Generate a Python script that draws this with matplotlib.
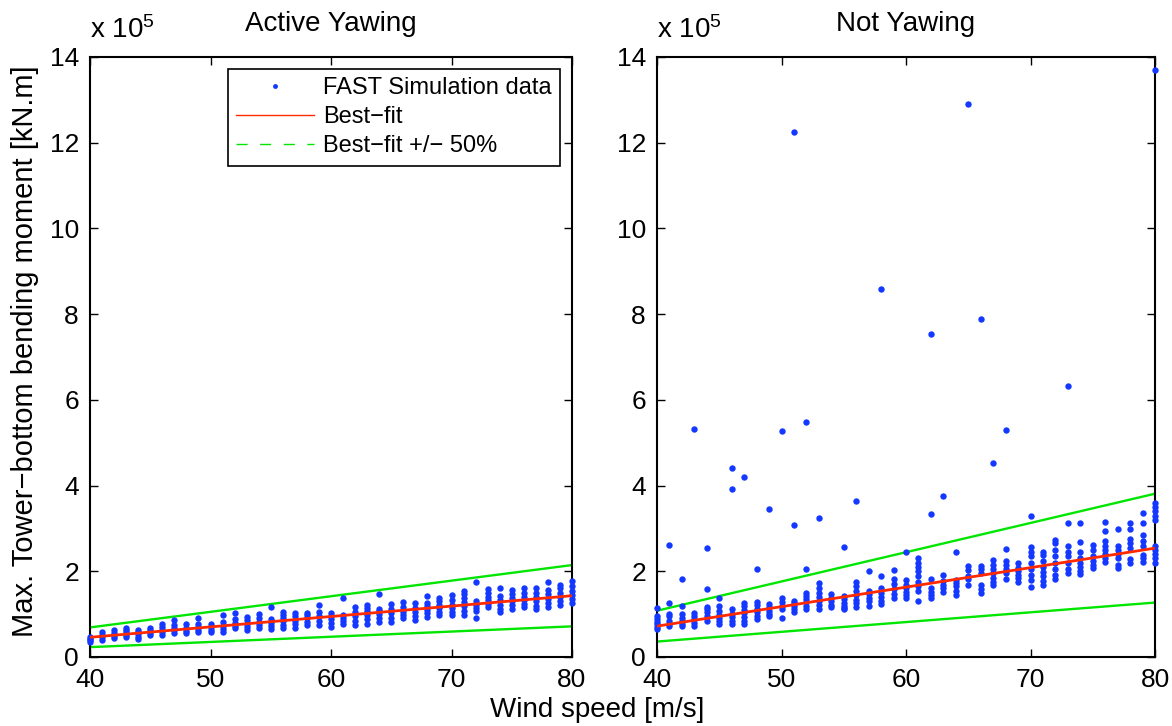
import numpy as np
import matplotlib.pyplot as plt
from matplotlib.lines import Line2D

plt.rcParams['font.family'] = ['Liberation Sans', 'DejaVu Sans']
plt.rcParams['mathtext.fontset'] = 'custom'
plt.rcParams['mathtext.rm'] = 'Liberation Sans'
plt.rcParams['mathtext.it'] = 'Liberation Sans'

# wind speeds [m/s]
speeds = list(range(40, 81))

# max tower-bottom bending moment per wind speed, units of 1e5 kN.m
active_pts = [
    [0.36, 0.40, 0.43, 0.47],
    [0.40, 0.46, 0.52, 0.59],
    [0.44, 0.50, 0.56, 0.63],
    [0.46, 0.52, 0.58, 0.63, 0.67],
    [0.41, 0.47, 0.53, 0.58, 0.63],
    [0.51, 0.56, 0.62, 0.67],
    [0.51, 0.58, 0.64, 0.71, 0.78],
    [0.57, 0.62, 0.68, 0.74, 0.86],
    [0.55, 0.61, 0.67, 0.77],
    [0.59, 0.64, 0.70, 0.78, 0.92],
    [0.59, 0.64, 0.70, 0.76],
    [0.59, 0.66, 0.73, 0.82, 0.98],
    [0.67, 0.73, 0.80, 0.88, 1.03],
    [0.63, 0.70, 0.78, 0.86, 0.93],
    [0.67, 0.74, 0.82, 0.90, 1.00],
    [0.65, 0.72, 0.80, 0.88, 1.16],
    [0.67, 0.75, 0.83, 0.92, 0.98, 1.05],
    [0.67, 0.76, 0.84, 0.95, 1.03],
    [0.75, 0.82, 0.90, 0.97, 1.03],
    [0.75, 0.85, 0.95, 1.05, 1.21],
    [0.71, 0.80, 0.88, 0.95, 1.03],
    [0.78, 0.85, 0.92, 0.98, 1.37],
    [0.75, 0.85, 0.95, 1.05, 1.17],
    [0.78, 0.88, 0.98, 1.08, 1.15, 1.21],
    [0.82, 0.92, 1.00, 1.08, 1.13, 1.46],
    [0.82, 0.92, 1.02, 1.12, 1.23],
    [0.90, 0.98, 1.06, 1.16, 1.29],
    [0.86, 0.95, 1.05, 1.15, 1.25],
    [0.94, 1.02, 1.10, 1.18, 1.27, 1.42],
    [0.98, 1.06, 1.14, 1.22, 1.30, 1.37],
    [0.98, 1.06, 1.14, 1.22, 1.32, 1.45],
    [0.98, 1.08, 1.18, 1.28, 1.38, 1.47, 1.55],
    [0.90, 1.08, 1.15, 1.22, 1.30, 1.76],
    [1.17, 1.24, 1.32, 1.40, 1.50, 1.58],
    [1.05, 1.13, 1.22, 1.32, 1.42, 1.60],
    [1.13, 1.22, 1.30, 1.38, 1.46, 1.56],
    [1.17, 1.24, 1.32, 1.40, 1.50, 1.60],
    [1.11, 1.20, 1.30, 1.40, 1.50, 1.60],
    [1.17, 1.26, 1.36, 1.46, 1.56, 1.76],
    [1.21, 1.30, 1.40, 1.50, 1.60, 1.68],
    [1.27, 1.36, 1.45, 1.55, 1.65, 1.78],
]

not_yawing_pts = [
    [0.65, 0.70, 0.76, 0.82, 0.88, 0.95, 1.15],
    [0.72, 0.76, 0.85, 0.95, 1.00, 1.27, 2.62],
    [0.72, 0.78, 0.85, 0.92, 1.00, 1.19, 1.83],
    [0.73, 0.80, 0.88, 0.95, 1.03, 5.33],
    [0.85, 0.95, 1.05, 1.12, 1.17, 1.59, 2.55],
    [0.78, 0.85, 0.92, 0.98, 1.08, 1.18, 1.37],
    [0.78, 0.85, 0.93, 1.00, 1.13, 3.91, 4.41],
    [0.78, 0.85, 0.93, 1.02, 1.10, 1.18, 1.25, 4.19],
    [0.88, 0.95, 1.05, 1.13, 1.22, 1.29, 2.05],
    [0.95, 1.00, 1.08, 1.17, 1.24, 3.45],
    [0.90, 1.12, 1.20, 1.28, 1.37, 5.27],
    [1.06, 1.12, 1.18, 1.25, 1.31, 3.08, 12.25],
    [1.13, 1.20, 1.28, 1.36, 1.43, 1.50, 2.05, 5.48],
    [1.13, 1.22, 1.30, 1.40, 1.50, 1.60, 1.72, 3.24],
    [1.17, 1.22, 1.30, 1.38, 1.47],
    [1.11, 1.15, 1.20, 1.27, 1.35, 1.42, 2.57],
    [1.17, 1.25, 1.33, 1.45, 1.55, 1.66, 1.76, 3.64],
    [1.19, 1.30, 1.38, 1.48, 1.55, 2.01],
    [1.24, 1.30, 1.40, 1.50, 1.60, 1.89, 8.58],
    [1.38, 1.48, 1.58, 1.70, 1.82, 2.03],
    [1.37, 1.45, 1.52, 1.60, 1.68, 1.80, 2.45],
    [1.31, 1.55, 1.65, 1.75, 1.88, 2.00, 2.10, 2.20, 2.30],
    [1.38, 1.45, 1.52, 1.60, 1.83, 3.33, 7.53],
    [1.52, 1.60, 1.68, 1.78, 1.91, 3.75],
    [1.44, 1.55, 1.65, 1.72, 1.80, 2.45],
    [1.68, 1.82, 1.90, 2.03, 2.12, 12.90],
    [1.50, 1.58, 1.68, 1.95, 2.05, 2.12, 7.88],
    [1.68, 1.75, 1.85, 1.95, 2.05, 2.15, 2.26, 4.52],
    [1.83, 1.95, 2.05, 2.15, 2.25, 2.53, 5.29],
    [1.76, 1.85, 1.92, 2.00, 2.08, 2.20],
    [1.64, 1.80, 1.92, 2.05, 2.20, 2.35, 2.45, 2.57, 3.29],
    [1.68, 1.78, 1.88, 1.98, 2.10, 2.25, 2.38, 2.46],
    [1.83, 1.92, 2.05, 2.20, 2.35, 2.50, 2.65, 2.73],
    [1.95, 2.05, 2.20, 2.35, 2.45, 2.59, 3.13, 6.33],
    [1.93, 2.00, 2.10, 2.20, 2.30, 2.45, 2.69, 3.12],
    [2.07, 2.15, 2.25, 2.35, 2.50, 2.61],
    [2.22, 2.30, 2.40, 2.50, 2.60, 2.71, 2.95, 3.15],
    [2.07, 2.15, 2.30, 2.40, 2.50, 2.60, 2.98],
    [2.20, 2.28, 2.55, 2.65, 2.75, 2.98, 3.13],
    [2.22, 2.30, 2.38, 2.60, 2.70, 2.85, 3.12, 3.36],
    [2.19, 2.30, 2.40, 2.50, 2.60, 3.20, 3.30, 3.40, 3.50, 3.60, 13.70],
]

# linear best-fit end points
fit_x = [40, 80]
active_fit = [0.46, 1.43]
not_yawing_fit = [0.72, 2.54]

titles = ['Active Yawing', 'Not Yawing']

blue = '#1438ff'
red = '#ff2a00'
green = '#00e600'
fs = 20

fig = plt.figure(figsize=(11.72, 7.26), dpi=100)
ax1 = fig.add_axes([90 / 1172, 69 / 726, 482 / 1172, 600 / 726])
ax2 = fig.add_axes([657 / 1172, 69 / 726, 498 / 1172, 600 / 726])

for ax, pts, fit, title in zip([ax1, ax2], [active_pts, not_yawing_pts],
                               [active_fit, not_yawing_fit], titles):
    xs, ys = [], []
    for s, col in zip(speeds, pts):
        xs += [s] * len(col)
        ys += col
    ax.plot(xs, ys, 'o', color=blue, ms=4.6, mew=0, clip_on=False, zorder=3)
    f = np.array(fit)
    ax.plot(fit_x, f, '-', color=red, lw=2.0, zorder=4)
    ax.plot(fit_x, 1.5 * f, '-', color=green, lw=1.7, zorder=2)
    ax.plot(fit_x, 0.5 * f, '-', color=green, lw=1.7, zorder=2)

    ax.set_xlim(40, 80)
    ax.set_ylim(0, 14)
    ax.set_xticks([40, 50, 60, 70, 80])
    ax.set_yticks(range(0, 15, 2))
    ax.tick_params(direction='in', length=6, width=1, top=True, right=True,
                   labelsize=19, pad=8)
    for sp in ax.spines.values():
        sp.set_linewidth(1.5)
    ax.set_title(title, fontsize=fs, pad=19)
    ax.text(0.0, 1.022, r'x 10$^{5}$', transform=ax.transAxes,
            fontsize=fs, ha='left', va='bottom')

handles = [
    Line2D([], [], ls='none', marker='o', ms=3.5, mew=0, color=blue),
    Line2D([], [], ls='-', lw=1, color=red),
    Line2D([], [], ls=(0, (8, 9)), lw=1, color=green),
]
leg = ax1.legend(handles, ['FAST Simulation data', 'Best\u2212fit',
                           'Best\u2212fit +/\u2212 50%'],
                 loc='upper right', fontsize=17, fancybox=False, framealpha=1,
                 edgecolor='black', borderaxespad=0.5, handlelength=3.3,
                 labelspacing=0.3, borderpad=0.35, handletextpad=0.4)
leg.get_frame().set_linewidth(1.2)

fig.text(25 / 1172, 1 - 351 / 726,
         'Max. Tower\u2212bottom bending moment [kN.m]',
         rotation=90, ha='center', va='center', fontsize=21)
fig.text(597 / 1172, 1 - 710 / 726, 'Wind speed [m/s]',
         ha='center', va='center', fontsize=fs)

fig.savefig('out.png', dpi=100)
